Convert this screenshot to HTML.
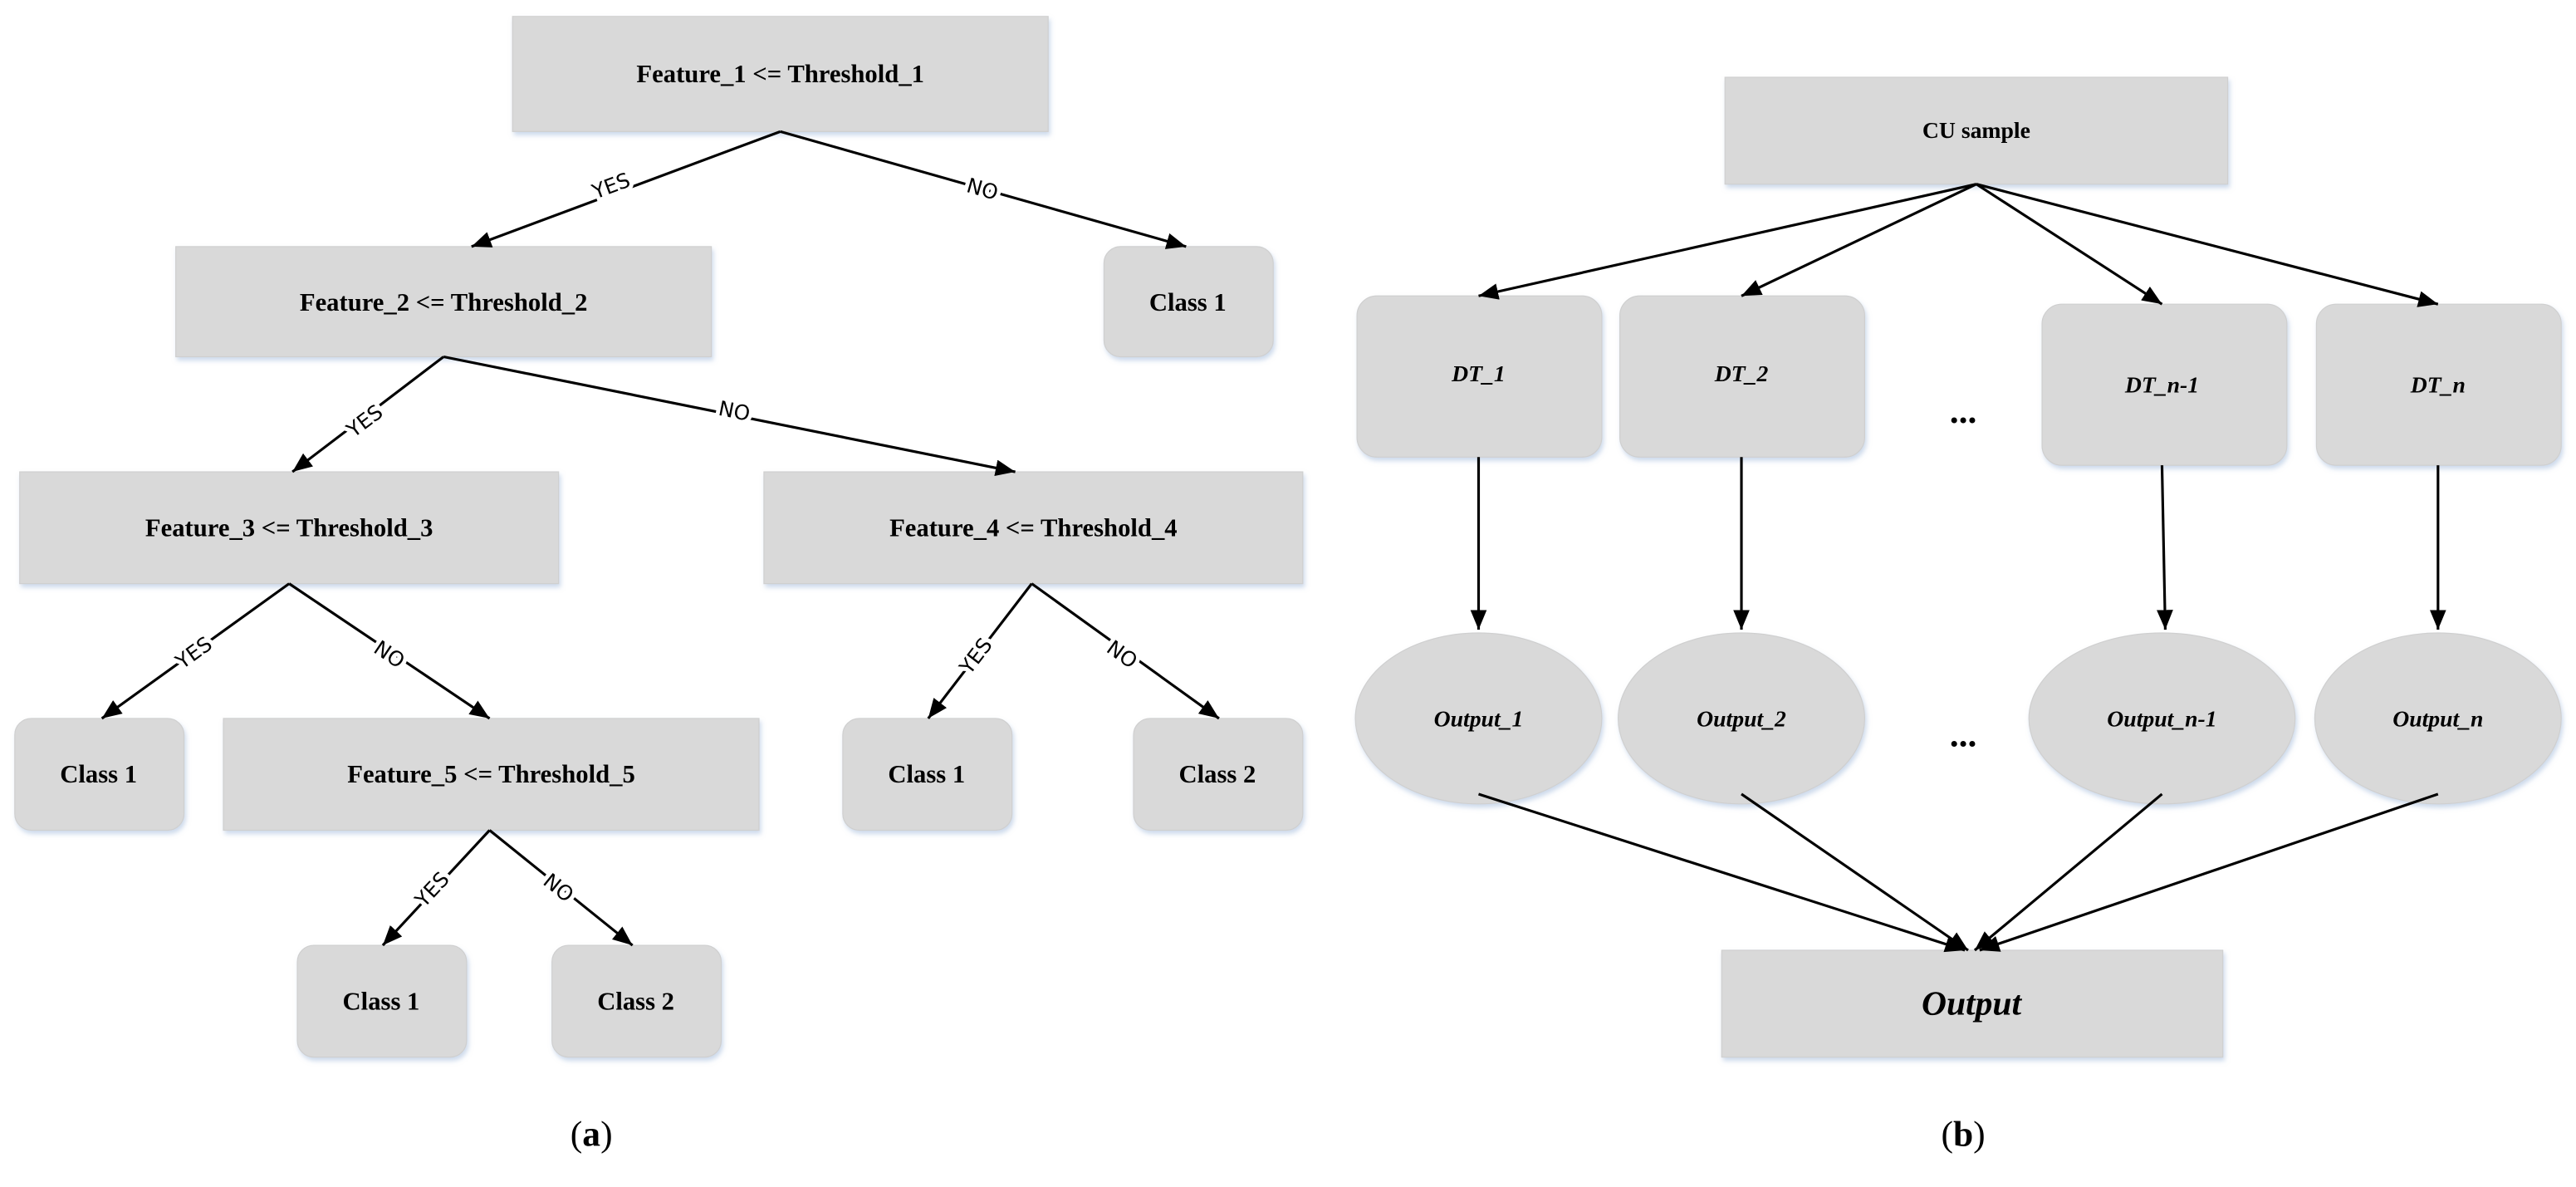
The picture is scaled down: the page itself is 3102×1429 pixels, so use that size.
<!DOCTYPE html>
<html><head><meta charset="utf-8"><style>html,body{margin:0;padding:0;background:#fff}svg{display:block}</style></head>
<body>
<svg width="3102" height="1429" viewBox="0 0 1568 722" preserveAspectRatio="none" xmlns="http://www.w3.org/2000/svg">
<defs>
<marker id="a" viewBox="0 0 12 10" refX="12" refY="5" markerWidth="12" markerHeight="10" markerUnits="userSpaceOnUse" orient="auto"><path d="M0,0 L12,5 L0,10 z" fill="#000"/></marker>
<filter id="s" x="-10%" y="-10%" width="120%" height="130%"><feDropShadow dx="1" dy="2" stdDeviation="1.5" flood-color="#9bb5d8" flood-opacity="0.5"/></filter>
</defs>
<g fill="#d9d9d9" stroke="#cfcfcf" stroke-width="0.6" filter="url(#s)">
<rect x="312" y="10" width="326" height="70"/>
<rect x="107" y="150" width="326" height="67"/>
<rect x="672" y="150" width="103" height="67" rx="10"/>
<rect x="12" y="287" width="328" height="68"/>
<rect x="465" y="287" width="328" height="68"/>
<rect x="9" y="437" width="103" height="68" rx="10"/>
<rect x="136" y="437" width="326" height="68"/>
<rect x="513" y="437" width="103" height="68" rx="10"/>
<rect x="690" y="437" width="103" height="68" rx="10"/>
<rect x="181" y="575" width="103" height="68" rx="10"/>
<rect x="336" y="575" width="103" height="68" rx="10"/>
<rect x="1050" y="47" width="306" height="65"/>
<rect x="826" y="180" width="149" height="98" rx="12"/>
<rect x="986" y="180" width="149" height="98" rx="12"/>
<rect x="1243" y="185" width="149" height="98" rx="12"/>
<rect x="1410" y="185" width="149" height="98" rx="12"/>
<ellipse cx="900" cy="437" rx="75" ry="52"/>
<ellipse cx="1060" cy="437" rx="75" ry="52"/>
<ellipse cx="1316" cy="437" rx="81" ry="52"/>
<ellipse cx="1484" cy="437" rx="75" ry="52"/>
<rect x="1048" y="578" width="305" height="65"/>
</g>
<g stroke="#000" stroke-width="1.6" fill="none" marker-end="url(#a)">
<line x1="475" y1="80" x2="287" y2="150"/>
<line x1="475" y1="80" x2="722" y2="150"/>
<line x1="270" y1="217" x2="178" y2="287"/>
<line x1="270" y1="217" x2="618" y2="287"/>
<line x1="176" y1="355" x2="62" y2="437"/>
<line x1="176" y1="355" x2="298" y2="437"/>
<line x1="628" y1="355" x2="565" y2="437"/>
<line x1="628" y1="355" x2="742" y2="437"/>
<line x1="298" y1="505" x2="233" y2="575"/>
<line x1="298" y1="505" x2="385" y2="575"/>
<line x1="1203" y1="112" x2="900" y2="180"/>
<line x1="1203" y1="112" x2="1060" y2="180"/>
<line x1="1203" y1="112" x2="1316" y2="185"/>
<line x1="1203" y1="112" x2="1484" y2="185"/>
<line x1="900" y1="278" x2="900" y2="383"/>
<line x1="1060" y1="278" x2="1060" y2="383"/>
<line x1="1316" y1="283" x2="1318" y2="383"/>
<line x1="1484" y1="283" x2="1484" y2="383"/>
<line x1="900" y1="483" x2="1196" y2="578"/>
<line x1="1060" y1="483" x2="1198" y2="578"/>
<line x1="1316" y1="483" x2="1202" y2="578"/>
<line x1="1484" y1="483" x2="1205" y2="578"/>
</g>
<g font-family="'DejaVu Sans','Liberation Sans',sans-serif" font-size="12.5" text-anchor="middle" dominant-baseline="central" fill="#000" stroke="#fff" stroke-width="5" paint-order="stroke">
<text transform="translate(372,113) rotate(-20.4)">YES</text>
<text transform="translate(598,115) rotate(15.8)">NO</text>
<text transform="translate(222,256) rotate(-37)">YES</text>
<text transform="translate(447,250) rotate(11.4)">NO</text>
<text transform="translate(118,397) rotate(-35.7)">YES</text>
<text transform="translate(237,398) rotate(33.9)">NO</text>
<text transform="translate(594,399) rotate(-52.5)">YES</text>
<text transform="translate(683,398) rotate(35.7)">NO</text>
<text transform="translate(263,541) rotate(-47)">YES</text>
<text transform="translate(340,540) rotate(38.8)">NO</text>
</g>
<g font-family="'Liberation Serif',serif" font-weight="bold" font-size="15.5" text-anchor="middle" dominant-baseline="central" fill="#000">
<text x="475" y="45">Feature_1 &lt;= Threshold_1</text>
<text x="270" y="184">Feature_2 &lt;= Threshold_2</text>
<text x="723" y="184">Class 1</text>
<text x="176" y="321">Feature_3 &lt;= Threshold_3</text>
<text x="629" y="321">Feature_4 &lt;= Threshold_4</text>
<text x="60" y="471">Class 1</text>
<text x="299" y="471">Feature_5 &lt;= Threshold_5</text>
<text x="564" y="471">Class 1</text>
<text x="741" y="471">Class 2</text>
<text x="232" y="609">Class 1</text>
<text x="387" y="609">Class 2</text>
<text x="1203" y="79" font-size="14">CU sample</text>
<g font-style="italic" font-size="14">
<text x="900" y="227">DT_1</text>
<text x="1060" y="227">DT_2</text>
<text x="1316" y="234">DT_n-1</text>
<text x="1484" y="234">DT_n</text>
<text x="900" y="437">Output_1</text>
<text x="1060" y="437">Output_2</text>
<text x="1316" y="437">Output_n-1</text>
<text x="1484" y="437">Output_n</text>
<text x="1200" y="610" font-size="21">Output</text>
</g>
<text x="1195" y="250" font-size="22">...</text>
<text x="1195" y="447" font-size="22">...</text>
</g>
<g font-family="'Liberation Serif',serif" font-size="22" text-anchor="middle" dominant-baseline="central">
<text x="360" y="690">(<tspan font-weight="bold">a</tspan>)</text>
<text x="1195" y="690">(<tspan font-weight="bold">b</tspan>)</text>
</g>
</svg>
</body></html>
